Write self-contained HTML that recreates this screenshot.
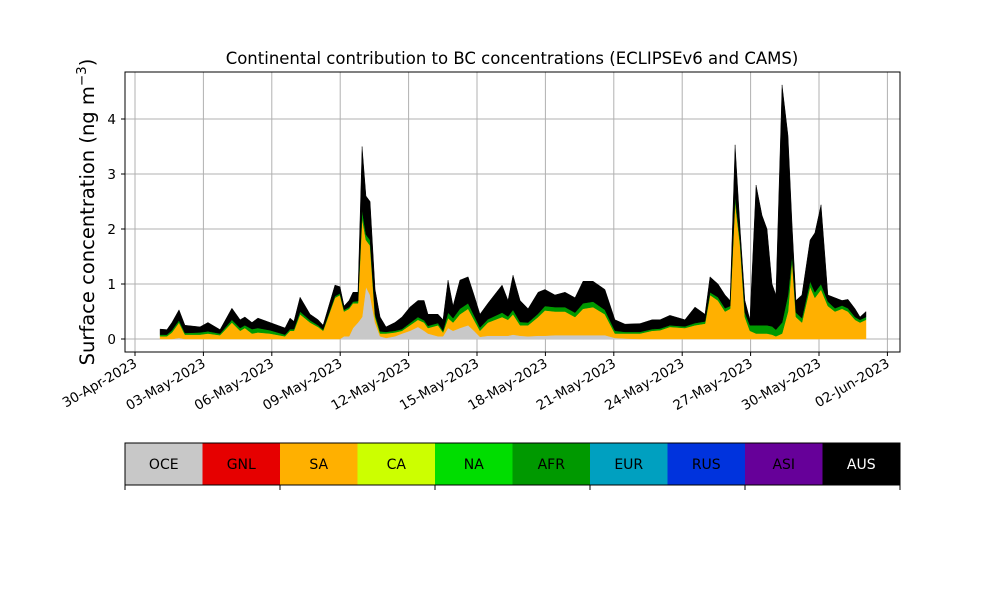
<!DOCTYPE html>
<html><head><meta charset="utf-8"><style>
body{margin:0;background:#fff;}
svg{display:block;font-family:"DejaVu Sans","Liberation Sans",sans-serif;}
</style></head><body>
<svg id="chart" width="1000" height="600"></svg>
<script>
// days since 30-Apr-2023 00:00
const days=[1.10,1.40,1.62,1.93,2.19,2.85,3.20,3.73,4.25,4.61,4.82,5.13,5.39,5.92,6.58,6.80,6.97,7.24,7.68,8.03,8.25,8.77,8.99,9.17,9.39,9.56,9.78,9.96,10.13,10.31,10.53,10.75,11.01,11.40,11.71,12.06,12.41,12.68,12.85,13.29,13.51,13.73,13.95,14.25,14.61,14.87,15.13,15.48,16.10,16.36,16.58,16.89,17.24,17.68,17.98,18.42,18.86,19.30,19.65,20.09,20.61,21.05,21.49,22.15,22.68,23.03,23.46,24.12,24.56,25.00,25.22,25.57,25.88,26.10,26.32,26.54,26.75,26.97,27.24,27.50,27.72,27.94,28.11,28.38,28.64,28.82,28.99,29.25,29.61,29.82,30.09,30.39,30.70,31.01,31.27,31.58,31.80,32.06];
const oce=[0,0,0,.02,0,0,0,0,0,0,0,0,0,0,0,0,0,0,0,0,0,0,0,.05,.05,.2,.3,.4,.95,.8,.3,.05,.02,.05,.1,.15,.22,.15,.1,.05,.05,.2,.15,.2,.25,.15,.04,.06,.06,.06,.08,.06,.05,.06,.06,.07,.07,.07,.07,.07,.07,.02,.01,0,0,0,0,0,0,0,0,0,0,0,0,0,0,0,0,0,0,0,0,0,0,0,0,0,0,0,0,0,0,0,0,0,0,0];
const sa=[.05,.05,.12,.28,.08,.08,.10,.07,.30,.15,.20,.10,.12,.10,.05,.15,.15,.45,.30,.22,.15,.75,.80,.45,.50,.45,.35,1.8,.85,.9,.1,.05,.08,.07,.05,.1,.13,.15,.1,.2,.07,.18,.15,.25,.3,.2,.11,.24,.34,.29,.37,.19,.2,.34,.46,.43,.43,.33,.48,.51,.38,.08,.09,.1,.15,.16,.22,.2,.25,.28,.8,.7,.5,.55,2.5,1.7,.4,.15,.1,.1,.1,.08,.05,.1,.5,1.43,.4,.3,.95,.75,.9,.6,.5,.55,.5,.35,.3,.35];
const afr=[.03,.03,.04,.04,.03,.04,.04,.03,.05,.05,.05,.08,.08,.06,.03,.03,.03,.05,.04,.03,.02,.03,.03,.03,.03,.03,.04,.15,.1,.1,.05,.04,.03,.03,.03,.04,.05,.04,.04,.04,.03,.1,.08,.1,.1,.08,.06,.06,.08,.06,.08,.06,.05,.06,.08,.08,.08,.08,.1,.1,.08,.05,.03,.03,.03,.03,.03,.03,.04,.04,.05,.06,.06,.05,.1,.08,.08,.1,.15,.15,.15,.15,.12,.2,.3,.1,.08,.08,.1,.1,.1,.08,.06,.06,.06,.05,.05,.05];
const aus=[.10,.09,.14,.19,.14,.10,.16,.07,.21,.15,.15,.12,.18,.14,.12,.20,.14,.26,.11,.10,.08,.20,.12,.07,.12,.17,.16,1.15,.7,.7,.45,.26,.09,.15,.22,.29,.3,.36,.21,.16,.2,.59,.22,.52,.48,.37,.24,.29,.5,.29,.63,.39,.25,.39,.3,.22,.27,.27,.4,.37,.37,.2,.14,.15,.17,.16,.18,.12,.29,.13,.28,.24,.24,.1,.93,.22,.22,.1,2.55,2.0,1.75,.77,.63,4.32,2.9,.54,.22,.42,.75,1.08,1.44,.12,.19,.09,.16,.15,.05,.1];
const yTicks=[0,1,2,3,4];
const xTickLabels=["30-Apr-2023","03-May-2023","06-May-2023","09-May-2023","12-May-2023","15-May-2023","18-May-2023","21-May-2023","24-May-2023","27-May-2023","30-May-2023","02-Jun-2023"];
const xTickDays=[0,3,6,9,12,15,18,21,24,27,30,33];
const regions=["OCE","GNL","SA","CA","NA","AFR","EUR","RUS","ASI","AUS"];
const regionColors=["#c8c8c8","#e60000","#ffb000","#ccff00","#00dd00","#009900","#00a0c0","#0033dd","#660099","#000000"];

const NS="http://www.w3.org/2000/svg";
const svg=document.getElementById('chart');
const L=125,R=900,T=72,B=352;
const X=d=>135+d*22.8;
const Y=v=>339-v*55;
function el(t,a,p){const e=document.createElementNS(NS,t);for(const k in a)e.setAttribute(k,a[k]);(p||svg).appendChild(e);return e;}

yTicks.forEach(v=>{const g=el('line',{x1:L,x2:R,y1:Y(v),y2:Y(v),stroke:'#b0b0b0','stroke-width':1});


const t=el('text',{x:L-9,y:Y(v)+5,'text-anchor':'end','font-size':13.5});t.textContent=v;


el('line',{x1:L-4,x2:L,y1:Y(v),y2:Y(v),stroke:'#000'});});
xTickDays.forEach((d,i)=>{const x=X(d);const g=el('line',{x1:x,x2:x,y1:T,y2:B,stroke:'#b0b0b0','stroke-width':1});


el('line',{x1:x,x2:x,y1:B,y2:B+4,stroke:'#000'});
const t=el('text',{x:x+3,y:B+14,'text-anchor':'end','font-size':13.5,transform:`rotate(-30 ${x+3} ${B+14})`});t.textContent=xTickLabels[i];

});

const layers=[[oce,0],[sa,2],[afr,5],[aus,9]];
let base=days.map(()=>0);
layers.forEach(([arr,ci])=>{const top=base.map((b,i)=>b+arr[i]);
let d='M'+days.map((t,i)=>X(t)+','+Y(top[i])).join(' L');
for(let i=days.length-1;i>=0;i--)d+=' L'+X(days[i])+','+Y(base[i]);d+='Z';
const p=el('path',{d:d,fill:regionColors[ci],stroke:regionColors[ci],'stroke-width':0.5});


base=top;});

el('rect',{x:L,y:T,width:R-L,height:B-T,fill:'none',stroke:'#000','stroke-width':1});
const title=el('text',{x:512,y:64,'text-anchor':'middle','font-size':16.5});title.textContent='Continental contribution to BC concentrations (ECLIPSEv6 and CAMS)';


const yl=el('text',{x:0,y:0,'text-anchor':'middle','font-size':19.5,transform:'translate(94,212) rotate(-90)'});
yl.innerHTML='Surface concentration (ng m<tspan dy="-8" font-size="13.5">−3</tspan><tspan dy="8">)</tspan>';



const cw=(R-L)/regions.length;
regions.forEach((r,i)=>{const rc=el('rect',{x:L+i*cw,y:443,width:cw+0.5,height:42,fill:regionColors[i]});


const t=el('text',{x:L+i*cw+cw/2,y:469,'text-anchor':'middle','font-size':14,fill:i===9?'#fff':'#000'});t.textContent=r;

});
el('rect',{x:L,y:443,width:R-L,height:42,fill:'none',stroke:'#000','stroke-width':1});
for(let k=0;k<=5;k++){const x=L+k*(R-L)/5;el('line',{x1:x,x2:x,y1:485,y2:490,stroke:'#000'});}
</script>
</body></html>
